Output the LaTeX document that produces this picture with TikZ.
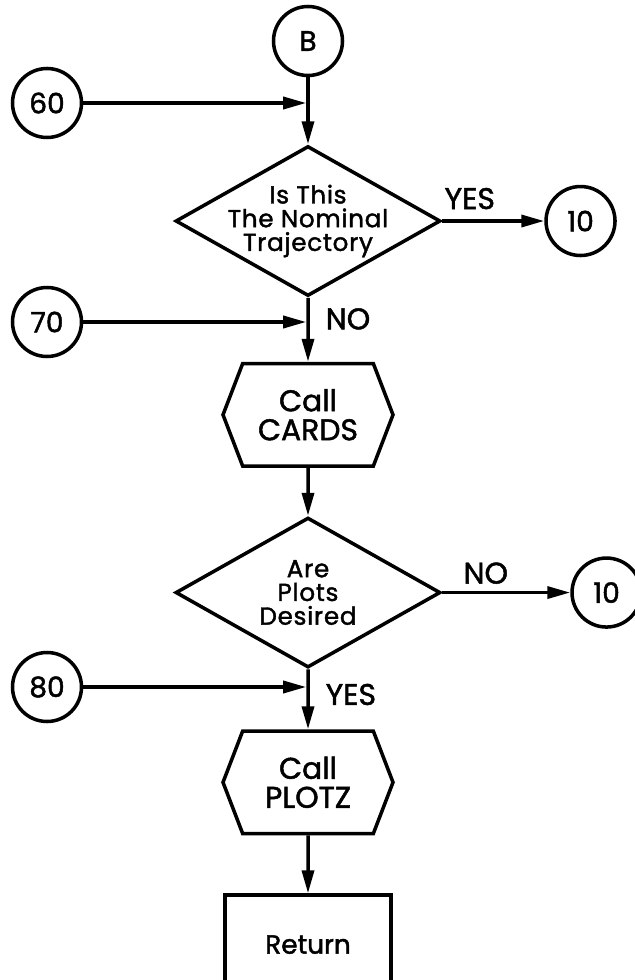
\documentclass[tikz,border=0pt]{standalone}
\usepackage{fontspec}
\setmainfont{Poppins}[FakeBold=1.6]
\usetikzlibrary{positioning,shapes.geometric,shapes.symbols,arrows.meta}

\newcommand{\strokew}{2pt}
\newcommand{\onpagesize}{1.38cm}
\newcommand{\querywidth}{5.3cm}
\newcommand{\queryheight}{3.0cm}
\newcommand{\callwidth}{3.4cm}
\newcommand{\callheight}{2.05cm}

\tikzstyle{onpage}=[draw=black,shape=circle,minimum size=\onpagesize,inner sep=0pt,
                    line width=\strokew,font=\fontsize{16}{18}\selectfont]
% negative inner sep so that only the minimum sizes set the outline
\tikzstyle{query}=[draw=black,shape=diamond,aspect=1.8,inner sep=-8pt,
                   minimum width=\querywidth,minimum height=\queryheight,
                   align=center,line width=\strokew,
                   font=\fontsize{14}{13.5}\selectfont\addfontfeature{LetterSpace=3}]
\tikzstyle{call}=[draw=black,shape=signal,signal to=west and east,signal pointer angle=138,
                  minimum width=\callwidth,minimum height=\callheight,inner sep=0pt,
                  align=center,line width=\strokew,font=\fontsize{17}{16.5}\selectfont]
\tikzstyle{exitbox}=[draw=black,shape=rectangle,minimum width=3.32cm,minimum height=1.98cm,
                     line width=\strokew,font=\fontsize{15}{16}\selectfont]
\tikzstyle{answer}=[fill=none,draw=none,inner sep=0pt,font=\fontsize{17}{18}\selectfont]
\tikzstyle{flow}=[-{Triangle[length=0.46cm,width=0.24cm]},line width=\strokew]

\begin{document}
\begin{tikzpicture}[x=0.2mm,y=-0.2mm]
\useasboundingbox (0,0) rectangle (635,980);

\node [onpage] (b) at (308,41) {B};
\node [query, below= 1.34cm of b] (q1) {Is This\\The Nominal\\Trajectory};
\node [call, below= 1.28cm of q1] (cards) {Call\\CARDS};
\node [query, below= 0.96cm of cards] (q2) {Are\\Plots\\Desired};
\node [call, below= 1.2cm of q2] (plotz) {Call\\PLOTZ};
\node [exitbox, below= 1.16cm of plotz] (ret) {Return};

\node [onpage, right= 2.04cm of q1] (t1) {10};
\node [onpage, right= 2.56cm of q2] (t2) {10};

\node [onpage] (p60) at (47,103) {60};
\node [onpage] (p70) at (47,322) {70};
\node [onpage] (p80) at (47,687) {80};
\coordinate (j60) at (b |- p60);
\coordinate (j70) at (b |- p70);
\coordinate (j80) at (b |- p80);

\draw [flow] (b) -- (q1);
\draw [flow] (q1) -- (cards) node[answer, pos=0.33, right=0.32cm] {NO};
\draw [flow] (cards) -- (q2);
\draw [flow] (q2) -- (plotz) node[answer, pos=0.42, right=0.32cm] {YES};
\draw [flow] (plotz) -- (ret);

\draw [flow] (q1) -- (t1) node[answer, pos=0.27, above=0.2cm] {YES};
\draw [flow] (q2) -- (t2) node[answer, pos=0.34, above=0.14cm] {NO};

\draw [flow, shorten >=1pt] (p60) -- (j60);
\draw [flow, shorten >=1pt] (p70) -- (j70);
\draw [flow, shorten >=1pt] (p80) -- (j80);
\end{tikzpicture}
\end{document}
